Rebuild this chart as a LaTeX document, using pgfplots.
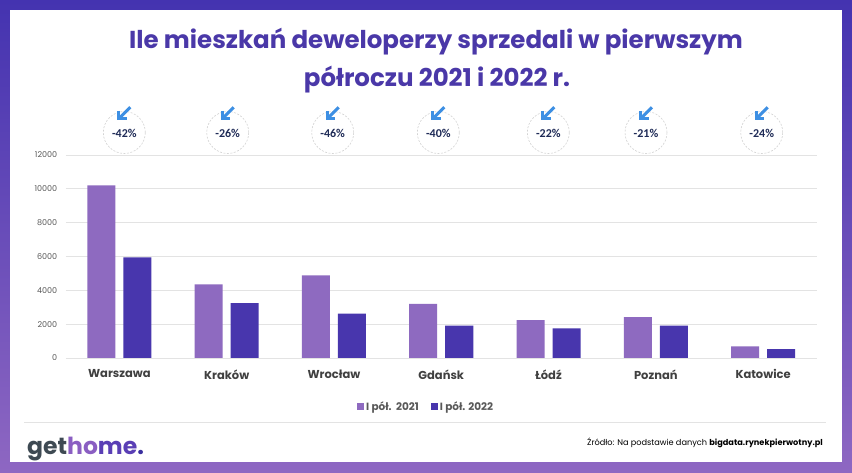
\documentclass[border=0pt]{standalone}
\usepackage{pgfplots}
\pgfplotsset{compat=1.18}
\usepackage{fontspec}
\setmainfont{Poppins}
\newfontfamily\carl{Carlito}
\definecolor{c21}{HTML}{8E6AC0}
\definecolor{c22}{HTML}{4836AD}
\definecolor{ttl}{HTML}{4A38A8}
\definecolor{frtop}{HTML}{4433B0}
\definecolor{frbot}{HTML}{8E67C2}
\definecolor{arr}{HTML}{3D8FE3}
\definecolor{pct}{HTML}{1F2B57}
\definecolor{lbl}{HTML}{404040}
\definecolor{tck}{HTML}{595959}
\definecolor{grd}{HTML}{E3E3E3}
\definecolor{logog}{HTML}{3E4A53}
\definecolor{logoh}{HTML}{8A5EC2}
\definecolor{logoe}{HTML}{5A3FB5}
\definecolor{logod}{HTML}{3A2F9F}
\begin{document}
\begin{tikzpicture}[x=1pt,y=1pt]
\shade[top color=frtop, bottom color=frbot] (0,0) rectangle (852,473);
\fill[white] (10,11) rectangle (842,463);
\node[text=ttl, font=\fontsize{24.5}{28}\selectfont\bfseries] at (436,431) {Ile mieszkań deweloperzy sprzedali w pierwszym};
\node[text=ttl, font=\fontsize{24.5}{28}\selectfont\bfseries] at (437,393) {półroczu 2021 i 2022 r.};
\begin{axis}[at={(65.75pt,115pt)}, anchor=south west,
 scale only axis, width=751pt, height=203pt,
 xmin=-0.5, xmax=6.5, ymin=0, ymax=12000,
 ybar=8pt, bar width=28pt,
 xtick={0,...,6}, xticklabels={Warszawa,Kraków,Wrocław,Gdańsk,Łódź,Poznań,Katowice},
 ytick={0,2000,...,12000}, scaled y ticks=false,
 ymajorgrids, grid style={grd, line width=0.8pt},
 axis line style={draw=none}, major tick length=0pt,
 /pgf/number format/1000 sep={}, /pgf/number format/assume math mode=true,
 yticklabel style={font=\fontsize{8}{9}\selectfont, text=tck, xshift=-5pt},
 xticklabel style={font=\fontsize{11.5}{13}\selectfont\bfseries, text=lbl, yshift=-8pt},
 legend style={at={(0.48,-0.24)}, anchor=center, draw=none, legend columns=2,
   font=\fontsize{10.5}{12}\selectfont\bfseries, text=tck,
   /tikz/every even column/.append style={column sep=10pt}},
 legend image code/.code={\fill[#1] (0pt,-3.5pt) rectangle (7pt,3.5pt);},
]
\addplot[fill=c21, draw=none] coordinates {(0,10200) (1,4350) (2,4880) (3,3200) (4,2240) (5,2420) (6,680)};
\addplot[fill=c22, draw=none] coordinates {(0,5950) (1,3250) (2,2620) (3,1920) (4,1750) (5,1920) (6,520)};
\legend{I pół.\ \ 2021, I pół. 2022}
\end{axis}
\foreach \cx/\t in {124.3/{-42\%},227.7/{-26\%},332.7/{-46\%},438.3/{-40\%},548.3/{-22\%},646/{-21\%},761.7/{-24\%}} {
 \draw[gray!35, line width=0.6pt, dash pattern=on 2pt off 1.5pt] (\cx,340.5) circle (21);
 \node[text=pct, font=\carl\bfseries\fontsize{12}{14}\selectfont] at (\cx,340) {\t};
 \draw[arr, line width=3pt] (\cx+6,365.7) -- (\cx-4,355.7);
 \draw[arr, line width=3pt, line join=miter] (\cx-5.5,362.2) -- (\cx-5.5,354.2) -- (\cx+2.5,354.2);
}
\draw[grd, line width=0.8pt] (24,51) -- (826,51);
\node[anchor=base west, inner sep=0, font=\fontsize{23.5}{28}\selectfont\bfseries] at (27,18) {\textcolor{logog}{get}\textcolor{logoh}{ho}\textcolor{logoe}{me}\textcolor{logod}{.}};
\node[anchor=base east, inner sep=0, font=\fontsize{8.2}{9}\selectfont] at (823,27) {Źródło: Na podstawie danych \textbf{bigdata.rynekpierwotny.pl}};
\end{tikzpicture}
\end{document}
